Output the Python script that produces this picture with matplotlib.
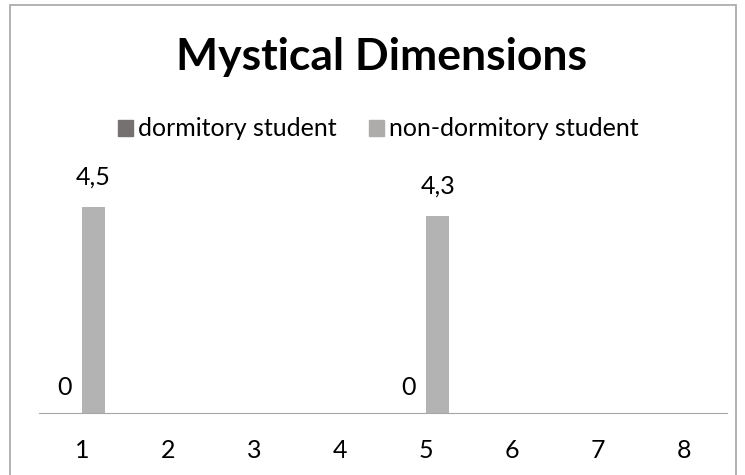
import matplotlib
matplotlib.use("Agg")
import matplotlib.pyplot as plt
from matplotlib.patches import Rectangle, Patch

plt.rcParams['font.family'] = ['Lato', 'DejaVu Sans']

categories = ['1', '2', '3', '4', '5', '6', '7', '8']
dormitory = [0, None, None, None, 0, None, None, None]
non_dormitory = [4.5, None, None, None, 4.3, None, None, None]

dorm_color = '#767171'
non_dorm_color = '#B3B3B3'

fig = plt.figure(figsize=(7.45, 4.75), dpi=100)
# chart border (bottom edge falls outside the picture)
fig.patches.append(Rectangle((10 / 745, -0.1), 726 / 745, 1.1 - 5 / 475,
                             transform=fig.transFigure, fill=False,
                             edgecolor='#A6A6A6', linewidth=1.2))

ax = fig.add_axes([39 / 745, 62 / 475, 688 / 745, 229 / 475])
w = 0.27
x = list(range(len(categories)))

for i, (d, n) in enumerate(zip(dormitory, non_dormitory)):
    if d is not None:
        ax.bar(i - w / 2, d, w, color=dorm_color)
        ax.annotate(f"{d:g}".replace('.', ','), (i - w / 2 - 0.07, d), xytext=(0, 10),
                    textcoords='offset points', ha='center', va='bottom', fontsize=18)
    if n is not None:
        ax.bar(i + w / 2, n, w, color=non_dorm_color)
        ax.annotate(f"{n:g}".replace('.', ','), (i + w / 2, n), xytext=(0, 13),
                    textcoords='offset points', ha='center', va='bottom', fontsize=18)

ax.set_xlim(-0.5, len(categories) - 0.5)
ax.set_ylim(0, 5)
ax.set_xticks(x)
ax.set_xticklabels(categories, fontsize=18)
ax.tick_params(axis='x', length=0, pad=19)
ax.set_yticks([])
for s in ['top', 'left', 'right']:
    ax.spines[s].set_visible(False)
ax.spines['bottom'].set_color('#A6A6A6')

fig.text(381 / 745, 1 - 57 / 475, 'Mystical Dimensions', ha='center', va='center',
         fontsize=32, fontweight='bold')

handles = [Patch(color=dorm_color, label='dormitory student'),
           Patch(color='#AEABAB', label='non-dormitory student')]
fig.legend(handles=handles, loc='center', bbox_to_anchor=(378 / 745, 1 - 129 / 475),
           ncol=2, frameon=False, fontsize=18, handlelength=0.6, handleheight=0.6,
           handletextpad=0.2, columnspacing=1.3)

fig.savefig('out.png', dpi=100)
